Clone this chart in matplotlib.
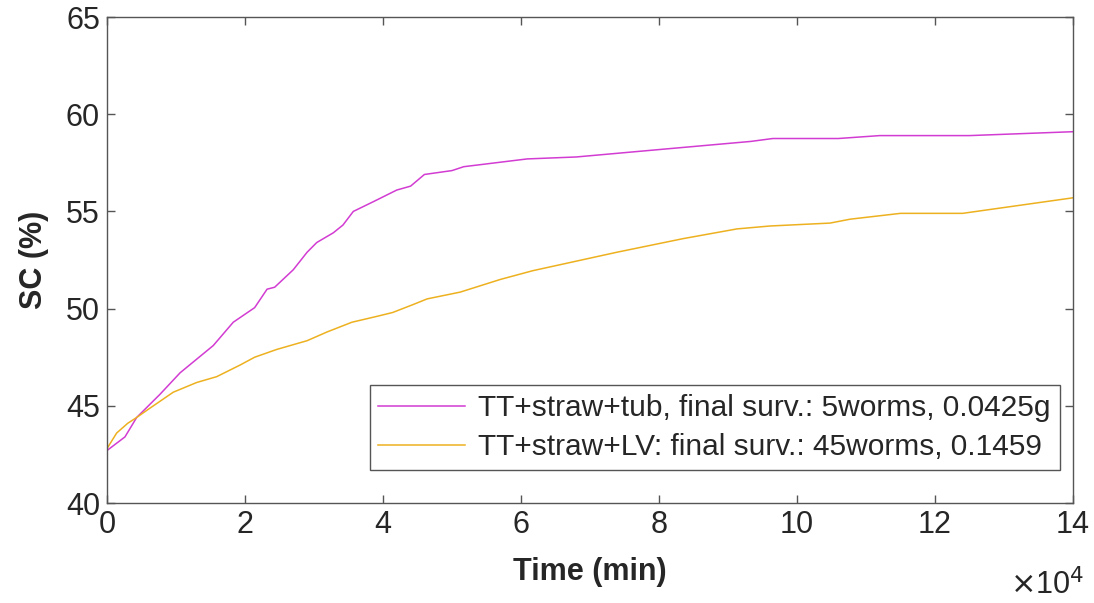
import matplotlib.pyplot as plt
import numpy as np

# time in units of 1e4 min, SC in %
t_tub = [0, 0.26, 0.43, 0.77, 1.06, 1.30, 1.54, 1.83, 2.14, 2.32, 2.43, 2.70, 2.90,
         3.04, 3.28, 3.42, 3.57, 3.86, 4.20, 4.40, 4.60, 5.00, 5.17, 6.09, 6.8,
         8.06, 9.33, 9.65, 10.6, 11.2, 12.5, 14.0]
sc_tub = [42.7, 43.4, 44.4, 45.6, 46.7, 47.4, 48.1, 49.3, 50.05, 51.0, 51.1, 52.0, 52.9,
          53.4, 53.9, 54.3, 55.0, 55.5, 56.1, 56.3, 56.9, 57.1, 57.3, 57.7, 57.8,
          58.2, 58.6, 58.75, 58.75, 58.9, 58.9, 59.1]

t_lv = [0, 0.14, 0.30, 0.43, 0.59, 0.96, 1.30, 1.59, 1.93, 2.14, 2.46, 2.90, 3.19,
        3.55, 3.91, 4.14, 4.43, 4.64, 5.12, 5.70, 6.17, 7.39, 8.35, 9.13, 9.61,
        10.48, 10.77, 11.5, 12.4, 14.0]
sc_lv = [42.8, 43.6, 44.1, 44.4, 44.8, 45.7, 46.2, 46.5, 47.1, 47.5, 47.9, 48.35, 48.8,
         49.3, 49.6, 49.8, 50.2, 50.5, 50.85, 51.5, 51.95, 52.9, 53.6, 54.1, 54.25,
         54.4, 54.6, 54.9, 54.9, 55.7]

label_tub = "TT+straw+tub, final surv.: 5worms, 0.0425g"
label_lv = "TT+straw+LV: final surv.: 45worms, 0.1459"
xticks = [0, 2, 4, 6, 8, 10, 12, 14]
yticks = [40, 45, 50, 55, 60, 65]

plt.rcParams['font.family'] = ['Liberation Sans', 'DejaVu Sans']
txt = '#262626'
edge = '#555555'

fig = plt.figure(figsize=(10.94, 6.03), dpi=100)
ax = fig.add_axes([0.0978, 0.1658, 0.883, 0.806])

ax.plot(np.array(t_tub) * 1e4, sc_tub, color='#d23cd2', lw=1.1, label=label_tub)
ax.plot(np.array(t_lv) * 1e4, sc_lv, color='#edb120', lw=1.1, label=label_lv)

ax.set_xlim(0, 14e4)
ax.set_ylim(40, 65)
ax.set_xticks(np.array(xticks) * 1e4)
ax.set_xticklabels([str(v) for v in xticks])
ax.set_yticks(yticks)
ax.tick_params(direction='in', top=True, right=True, length=6, width=1,
               colors=edge, labelcolor=txt, labelsize=22, pad=5)
for s in ax.spines.values():
    s.set_color(edge)
    s.set_linewidth(1)

ax.set_xlabel("Time (min)", fontsize=22, fontweight='bold', color=txt, labelpad=12)
ax.set_ylabel("SC (%)", fontsize=22, fontweight='bold', color=txt, labelpad=12)
ax.text(1.012, -0.168, r"$\times$10$^4$", transform=ax.transAxes, fontsize=22,
        color=txt, ha='right', va='center')

leg = ax.legend(loc='lower right', bbox_to_anchor=(0.9865, 0.068), borderaxespad=0,
                fancybox=False, framealpha=1, edgecolor=edge, handlelength=2.9,
                borderpad=0.3, labelspacing=0.36, handletextpad=0.45,
                prop={'family': 'Liberation Sans', 'size': 21.5})
for t in leg.get_texts():
    t.set_color(txt)

fig.savefig('out.png', dpi=100)
